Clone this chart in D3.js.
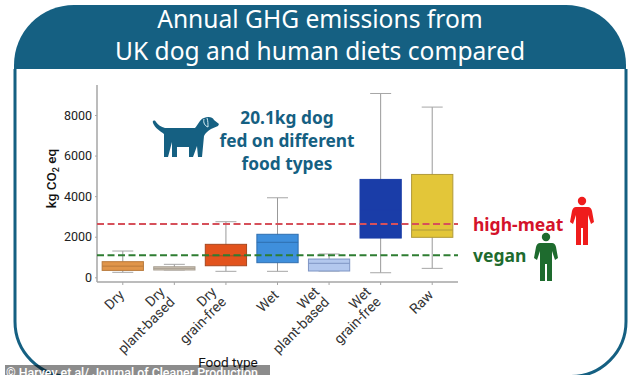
<!DOCTYPE html>
<html lang="en">
<head>
<meta charset="UTF-8">
<title>Annual GHG emissions</title>
<script src="https://cdn.jsdelivr.net/npm/d3@7"></script>
<style>
    html, body { margin: 0; padding: 0; background: #fff; }
    svg { display: block; }
    text { font-family: "Noto Sans", sans-serif; }
</style>
</head>
<body>
<script>
    const categories = ["Dry", "Dry|plant-based", "Dry|grain-free", "Wet", "Wet|plant-based", "Wet|grain-free", "Raw"];
    const whiskerLow = [245, 360, 295, 295, 310, 225, 440];
    const q1 = [340, 360, 570, 720, 310, 1935, 1970];
    const median = [550, 440, 1060, 1725, 690, 3300, 2330];
    const q3 = [770, 520, 1625, 2120, 900, 4825, 5070];
    const whiskerHigh = [1295, 640, 2740, 3920, 1150, 9060, 8390];
    const boxColors = ["#e0954a", "#cfc4b4", "#e2531d", "#3f8fdc", "#b3c8ee", "#1a3da8", "#e3c639"];
    const medianColors = ["#b97a3c", "#a89f92", "#a8471f", "#2f6fb0", "#7f95c4", "#1a3da8", "#b09a3a"];
    const yTicks = [0, 2000, 4000, 6000, 8000];
    const refValues = [2625, 1085];
    const refColors = ["#d6505a", "#2e7d32"];
    const refLabels = ["high-meat", "vegan"];
    const titleLines = ["Annual GHG emissions from", "UK dog and human diets compared"];
    const dogLines = ["20.1kg dog", "fed on different", "food types"];

    const teal = "#156082";
    const svg = d3.select("body").append("svg").attr("width", 634).attr("height", 375);

    // panel and header
    svg.append("path").attr("d", "M14,69 V65 A60,60 0 0 1 74,5 H566 A60,60 0 0 1 626,65 V69 Z").attr("fill", teal);
    svg.append("path").attr("fill", "none").attr("stroke", teal).attr("stroke-width", 3)
        .attr("d", "M15,69 V321.5 A55,55 0 0 0 70,376.5 H571 A55,55 0 0 0 626,321.5 V69");
    svg.selectAll(".title").data(titleLines).join("text").attr("class", "title")
        .attr("x", 320).attr("y", (d, i) => 28 + i * 32)
        .attr("text-anchor", "middle").attr("fill", "#fff").attr("font-size", 24.6).text(d => d);

    const x = d3.scaleBand().domain(categories).range([97, 458]).paddingInner(0.2).paddingOuter(0.1);
    const y = d3.scaleLinear().domain([0, 8000]).range([277.3, 115]);
    const cx = d => x(d) + x.bandwidth() / 2;

    // axes
    const yAxis = svg.append("g").attr("transform", "translate(97,0)")
        .call(d3.axisLeft(y).tickValues(yTicks).tickSize(2).tickPadding(3).tickFormat(d3.format("d")));
    yAxis.select(".domain").attr("d", "M0,85V282");
    const xAxis = svg.append("g").attr("transform", "translate(0,282)")
        .call(d3.axisBottom(x).tickSize(3).tickFormat(""));
    xAxis.select(".domain").attr("d", "M97,0H458");
    svg.selectAll(".domain").attr("stroke", "#a6a6a6").attr("stroke-width", 1.5);
    svg.selectAll(".tick line").attr("stroke", "#a6a6a6");
    yAxis.selectAll("text").attr("font-size", 12.5).attr("fill", "#222").style("font-family", "Roboto");

    // rotated category labels, right aligned
    categories.forEach(c => {
        const lines = c.split("|");
        const t = svg.append("text")
            .attr("transform", `translate(${cx(c)},296) rotate(-45)`)
            .attr("text-anchor", "end").attr("font-size", 14).attr("fill", "#333")
            .style("font-family", "Roboto");
        lines.forEach((l, i) => t.append("tspan")
            .attr("x", lines.length > 1 ? -4 : 1.5)
            .attr("y", lines.length > 1 ? (i ? 5.6 : -8.5) : 1.4)
            .text(l));
    });

    svg.append("rect").attr("x", 5).attr("y", 365).attr("width", 265).attr("height", 10).attr("fill", "#000").attr("fill-opacity", 0.45);
    svg.append("text").attr("x", 228).attr("y", 367).attr("text-anchor", "middle")
        .attr("font-size", 13.6).attr("fill", "#111").style("font-family", "Roboto").text("Food type");
    svg.append("text").attr("transform", "translate(56,178.5) rotate(-90)").attr("text-anchor", "middle")
        .attr("font-size", 13.5).attr("font-weight", 500).attr("fill", "#111").style("font-family", "Roboto")
        .html('kg CO<tspan dy="3" font-size="9">2</tspan><tspan dy="-3"> eq</tspan>');

    // boxes
    const box = svg.selectAll(".box").data(categories).join("g").attr("class", "box");
    box.append("line").attr("x1", cx).attr("x2", cx)
        .attr("y1", (d, i) => y(whiskerLow[i])).attr("y2", (d, i) => y(whiskerHigh[i]))
        .attr("stroke", "#999");
    [whiskerLow, whiskerHigh].forEach(w => {
        box.append("line").attr("x1", d => cx(d) - 10.5).attr("x2", d => cx(d) + 10.5)
            .attr("y1", (d, i) => y(w[i])).attr("y2", (d, i) => y(w[i])).attr("stroke", "#a6a6a6");
    });
    box.append("rect").attr("x", d => x(d)).attr("width", x.bandwidth())
        .attr("y", (d, i) => y(q3[i])).attr("height", (d, i) => y(q1[i]) - y(q3[i]))
        .attr("fill", (d, i) => boxColors[i]).attr("stroke", (d, i) => medianColors[i]);
    box.append("line").attr("x1", d => x(d)).attr("x2", d => x(d) + x.bandwidth())
        .attr("y1", (d, i) => y(median[i])).attr("y2", (d, i) => y(median[i]))
        .attr("stroke", (d, i) => medianColors[i]);

    // reference lines
    svg.selectAll(".ref").data(refValues).join("line").attr("class", "ref")
        .attr("x1", 97).attr("x2", 458).attr("y1", d => y(d)).attr("y2", d => y(d))
        .attr("stroke", (d, i) => refColors[i]).attr("stroke-width", 2).attr("stroke-dasharray", "7 3.5");

    // annotations
    svg.selectAll(".dog").data(dogLines).join("text").attr("class", "dog")
        .attr("x", 287).attr("y", (d, i) => 124 + i * 23).attr("text-anchor", "middle")
        .attr("font-size", 17.3).attr("font-weight", 700).attr("fill", teal).text(d => d);
    svg.selectAll(".reflabel").data(refLabels).join("text").attr("class", "reflabel")
        .attr("x", 473).attr("y", (d, i) => (i ? 262 : 231)).attr("font-size", 17.5).attr("font-weight", 700)
        .attr("fill", (d, i) => i ? "#1e6b2e" : "#d4122a").text(d => d);

    // dog icon
    svg.append("path").attr("fill", teal)
        .attr("d", "M153,123 C152,120 155,120 156,122 C158,125 161,127 165,128 H195 C198,125 200,119 204,118 C208,116 213,117 214,120 L219,124 L218,126 L211,129 C208,131 205,133 204,136 L202,157 H198 L197,146 L193,157 H189 V147 H177 V157 H172 V142 L168,157 H164 L164,134 C160,131 155,128 153,123 Z");
    svg.append("path").attr("fill", "none").attr("stroke", "#d8eef5").attr("stroke-width", 1)
        .attr("d", "M204,119 C203,123 205,126 208,127 C208,124 208,121 207,118");

    // person icons
    function person(px, py, color) {
        const g = svg.append("g").attr("transform", `translate(${px},${py})`).attr("fill", color);
        g.append("circle").attr("cx", 0).attr("cy", 4).attr("r", 4.2);
        g.append("path").attr("d", "M-6,10 H6 Q9,10 10,14 L12,25 L9,27 L6,18 V48 H1 V31 H-1 V48 H-6 V18 L-9,27 L-12,25 L-10,14 Q-9,10 -6,10 Z");
    }
    person(582, 197, "#ef1c1c");
    person(546, 233, "#1e6b2e");

    // credit strip
    svg.append("text").attr("x", 6).attr("y", 377).attr("font-size", 12.4).attr("font-weight", 500).attr("fill", "#fff")
        .style("font-family", "Roboto").text("© Harvey et al/ Journal of Cleaner Production");
</script>
</body>
</html>
